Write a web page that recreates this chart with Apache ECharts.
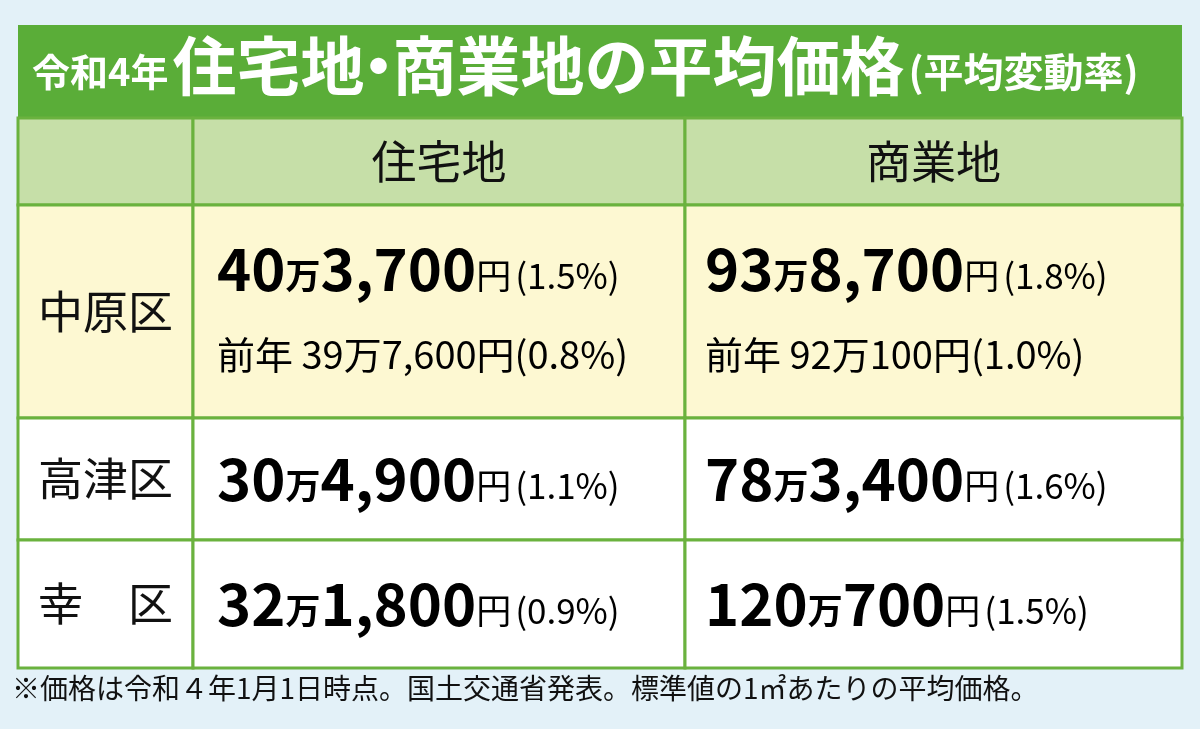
<!DOCTYPE html>
<html><head><meta charset="utf-8">
<script src="https://cdn.jsdelivr.net/npm/echarts@6/dist/echarts.min.js"></script>
<style>html,body{margin:0;padding:0;background:#e3f1f8}#c{width:1200px;height:729px}</style>
</head><body><div id="c"></div>
<script>
const districts = ['中原区','高津区','幸　区'];
const landTypes = ['住宅地','商業地'];
const resPrice = ['40万3,700','30万4,900','32万1,800'];
const resPct = ['1.5','1.1','0.9'];
const comPrice = ['93万8,700','78万3,400','120万700'];
const comPct = ['1.8','1.6','1.5'];
const prevRes = ['39万7,600','0.8'];
const prevCom = ['92万100','1.0'];
const titleText = ['令和4年','住宅地','・','商業地の平均価格','(平均変動率)'];
const footText = '※価格は令和４年1月1日時点。国土交通省発表。標準値の1㎡あたりの平均価格。';

// layout (not data)
const colEdges = [0,175,667,1164];
const rowEdges = [0,87,300,422,550];
const FONT = '"Noto Sans CJK JP","Noto Sans",sans-serif';
const GREEN = '#6ab23e';

function priceRich(price, pct){
  const [a,b] = price.split('万');
  return '{n|'+a+'}{m|万}{n|'+b+'}{y|円}{p|('+pct+'%)}';
}
function prevRich(p){
  return '{q|前年 '+p[0]+'円('+p[1]+'%)}';
}
const rich = {
  n:{fontSize:58,fontWeight:'bold',fontFamily:FONT,color:'#111'},
  m:{fontSize:35,fontWeight:'bold',fontFamily:FONT,color:'#111',padding:[14,0,0,0]},
  y:{fontSize:35,fontFamily:FONT,color:'#111',padding:[14,0,0,0]},
  p:{fontSize:35,fontFamily:FONT,color:'#111',padding:[14,0,0,4]},
  q:{fontSize:38,fontFamily:FONT,color:'#111'}
};

const cells = [];
cells.push([0,0,'','h']);
landTypes.forEach((t,i)=>cells.push([i+1,0,t,'h']));
districts.forEach((d,r)=>{
  cells.push([0,r+1,d,'d']);
  cells.push([1,r+1,priceRich(resPrice[r],resPct[r]), r===0?'v0':'v', r===0?prevRich(prevRes):'']);
  cells.push([2,r+1,priceRich(comPrice[r],comPct[r]), r===0?'v0':'v', r===0?prevRich(prevCom):'']);
});

function renderItem(params, api){
  const c = api.value(0), r = api.value(1);
  const item = cells[params.dataIndex];
  const p0 = api.coord([colEdges[c], rowEdges[r]]);
  const p1 = api.coord([colEdges[c+1], rowEdges[r+1]]);
  const x=p0[0], y=p0[1], w=p1[0]-p0[0], h=p1[1]-p0[1];
  const fill = r===0 ? '#c6dfa8' : (r===1 ? '#fdf8d2' : '#ffffff');
  const children = [{type:'rect',shape:{x,y,width:w,height:h},style:{fill,stroke:GREEN,lineWidth:3}}];
  const kind = item[3];
  if (kind==='h' || kind==='d'){
    children.push({type:'text',style:{text:item[2],x:x+w/2,y:y+h/2,align:'center',verticalAlign:'middle',fontSize:45,fontFamily:FONT,fill:'#111'}});
  } else {
    const padL = c===1 ? 24 : 20;
    if (kind==='v0'){
      children.push({type:'text',style:{text:item[2],rich,x:x+padL,y:y+64,align:'left',verticalAlign:'middle'}});
      children.push({type:'text',style:{text:item[4],rich,x:x+padL,y:y+150,align:'left',verticalAlign:'middle'}});
    } else {
      children.push({type:'text',style:{text:item[2],rich,x:x+padL,y:y+h/2,align:'left',verticalAlign:'middle'}});
    }
  }
  return {type:'group',children};
}

const chart = echarts.init(document.getElementById('c'));
chart.setOption({
  backgroundColor:'#e3f1f8',
  animation:false,
  grid:{left:18,right:18,top:118,bottom:61},
  xAxis:{type:'value',min:0,max:1164,show:false},
  yAxis:{type:'value',min:0,max:550,inverse:true,show:false},
  graphic:[
    {type:'rect',left:18,top:25,shape:{width:1164,height:95},style:{fill:'#5aad38'}},
    {type:'text',left:32,top:34,style:{
      text:'{a|'+titleText[0]+'}{b|'+titleText[1]+'}{d|'+titleText[2]+'}{b|'+titleText[3]+'}{c|'+titleText[4]+'}',
      rich:{
        a:{fontSize:38,fontWeight:'bold',fontFamily:FONT,fill:'#fff',padding:[12,4,0,0]},
        b:{fontSize:64,fontWeight:'bold',fontFamily:FONT,fill:'#fff'},
        d:{fontSize:64,fontWeight:'bold',fontFamily:FONT,fill:'#fff',width:28,align:'center'},
        c:{fontSize:40,fontWeight:'bold',fontFamily:FONT,fill:'#fff',padding:[12,0,0,4]}
      }}},
    {type:'text',left:12,top:674,style:{text:footText,fontSize:28,fontFamily:FONT,fill:'#111'}}
  ],
  series:[{type:'custom',renderItem,data:cells.map(c=>[c[0],c[1]]),silent:true}]
});
</script></body></html>
